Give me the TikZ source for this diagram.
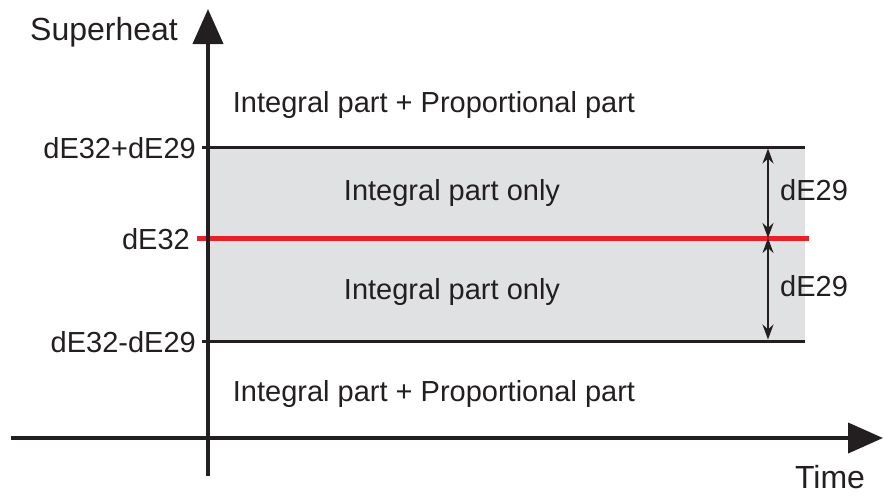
\documentclass[tikz,border=0pt]{standalone}
\usepackage{fontspec}
\setmainfont{Liberation Sans}
\usetikzlibrary{arrows.meta}
\definecolor{ink}{HTML}{231F20}
\definecolor{band}{HTML}{E0E1E3}
\definecolor{redline}{HTML}{E8202A}
\begin{document}
\begin{tikzpicture}[x=1pt,y=-1pt,
  lbl/.style={inner sep=0pt,text=ink,font=\fontsize{29}{34}\selectfont},
  big/.style={inner sep=0pt,text=ink,font=\fontsize{32}{38}\selectfont},
  axis/.style={draw=ink,line width=4pt,-{Triangle[length=35pt,width=30pt]}},
  bound/.style={draw=ink,line width=3pt},
  dim/.style={draw=ink,line width=1.6pt,{Stealth[length=15pt,width=11pt]}-{Stealth[length=15pt,width=11pt]}}]
\useasboundingbox (0,0) rectangle (884,496);
% band
\fill[band] (208,147) rectangle (805,341);
% coordinates
\coordinate (ybot) at (208,476);
\coordinate (ytop) at (208,9);
\coordinate (xl) at (11,438);
\coordinate (xr) at (883,438);
\coordinate (tl) at (202,147);
\coordinate (tr) at (805,147);
\coordinate (bl) at (202,341);
\coordinate (br) at (805,341);
\coordinate (ml) at (197,238);
\coordinate (mr) at (809,238);
\coordinate (dt) at (768,148.5);
\coordinate (dm) at (768,238);
\coordinate (db) at (768,339.5);
% boundary lines
\draw[bound] (tl) -- (tr);
\draw[bound] (bl) -- (br);
\draw[redline,line width=5pt] (ml) -- (mr);
% dimension arrows
\draw[dim] (dt) -- (dm);
\draw[dim] (dm) -- (db);
% axes
\draw[axis] (ybot) -- (ytop);
\draw[axis] (xl) -- (xr);
% labels
\node[big,anchor=base] (sh) at (104,40) {Superheat};
\node[big,anchor=base] (tm) at (830,488) {Time};
\node[lbl,anchor=base] (ip1) at (434,112) {Integral part + Proportional part};
\node[lbl,anchor=base] (ip2) at (434,401) {Integral part + Proportional part};
\node[lbl,anchor=base] (io1) at (452,200) {Integral part only};
\node[lbl,anchor=base] (io2) at (452,299) {Integral part only};
\node[lbl,anchor=base east] (l1) at (196,158) {dE32+dE29};
\node[lbl,anchor=base east] (l2) at (190,249) {dE32};
\node[lbl,anchor=base east] (l3) at (196,352) {dE32-dE29};
\node[lbl,anchor=base west] (d1) at (780,200) {dE29};
\node[lbl,anchor=base west] (d2) at (780,296) {dE29};
\end{tikzpicture}
\end{document}
